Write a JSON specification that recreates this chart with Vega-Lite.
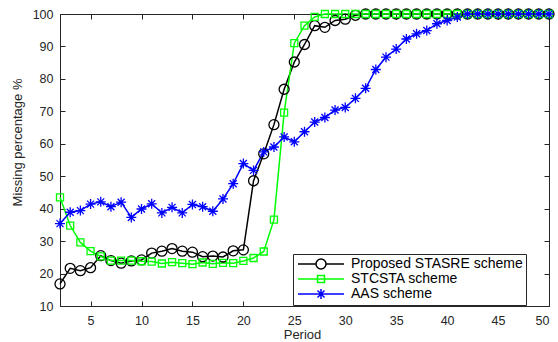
{
  "$schema": "https://vega.github.io/schema/vega-lite/v6.json",
  "width": 489,
  "height": 292,
  "autosize": {"type": "none"},
  "padding": {"left": 60, "top": 14, "right": 9, "bottom": 36},
  "background": "white",
  "config": {
    "view": {"stroke": "#262626", "strokeWidth": 1},
    "font": "Liberation Sans",
    "axis": {
      "grid": false,
      "domainColor": "#262626",
      "tickColor": "#262626",
      "labelColor": "#262626",
      "titleColor": "#262626",
      "labelFont": "Liberation Sans",
      "titleFont": "Liberation Sans",
      "labelFontSize": 12.5,
      "titleFontSize": 13,
      "titleFontWeight": "normal",
      "tickSize": -5,
      "domainWidth": 1,
      "tickWidth": 1
    }
  },
  "data": {
    "values": [
      {"period": 2, "Proposed STASRE scheme": 16.8, "STCSTA scheme": 43.5, "AAS scheme": 35.4},
      {"period": 3, "Proposed STASRE scheme": 21.6, "STCSTA scheme": 34.8, "AAS scheme": 38.9},
      {"period": 4, "Proposed STASRE scheme": 20.9, "STCSTA scheme": 29.6, "AAS scheme": 39.4},
      {"period": 5, "Proposed STASRE scheme": 21.8, "STCSTA scheme": 26.9, "AAS scheme": 41.4},
      {"period": 6, "Proposed STASRE scheme": 25.5, "STCSTA scheme": 25.3, "AAS scheme": 42.1},
      {"period": 7, "Proposed STASRE scheme": 24.0, "STCSTA scheme": 24.0, "AAS scheme": 40.6},
      {"period": 8, "Proposed STASRE scheme": 23.2, "STCSTA scheme": 24.0, "AAS scheme": 42.0},
      {"period": 9, "Proposed STASRE scheme": 23.9, "STCSTA scheme": 24.0, "AAS scheme": 37.3},
      {"period": 10, "Proposed STASRE scheme": 24.2, "STCSTA scheme": 23.8, "AAS scheme": 39.9},
      {"period": 11, "Proposed STASRE scheme": 26.3, "STCSTA scheme": 23.7, "AAS scheme": 41.5},
      {"period": 12, "Proposed STASRE scheme": 26.9, "STCSTA scheme": 23.1, "AAS scheme": 38.7},
      {"period": 13, "Proposed STASRE scheme": 27.7, "STCSTA scheme": 23.5, "AAS scheme": 40.4},
      {"period": 14, "Proposed STASRE scheme": 26.9, "STCSTA scheme": 23.2, "AAS scheme": 38.7},
      {"period": 15, "Proposed STASRE scheme": 26.6, "STCSTA scheme": 22.9, "AAS scheme": 41.3},
      {"period": 16, "Proposed STASRE scheme": 25.2, "STCSTA scheme": 23.4, "AAS scheme": 40.6},
      {"period": 17, "Proposed STASRE scheme": 25.4, "STCSTA scheme": 23.0, "AAS scheme": 39.2},
      {"period": 18, "Proposed STASRE scheme": 25.1, "STCSTA scheme": 23.3, "AAS scheme": 43.0},
      {"period": 19, "Proposed STASRE scheme": 27.0, "STCSTA scheme": 23.2, "AAS scheme": 47.7},
      {"period": 20, "Proposed STASRE scheme": 27.3, "STCSTA scheme": 23.9, "AAS scheme": 53.9},
      {"period": 21, "Proposed STASRE scheme": 48.6, "STCSTA scheme": 24.8, "AAS scheme": 51.8},
      {"period": 22, "Proposed STASRE scheme": 56.9, "STCSTA scheme": 26.8, "AAS scheme": 57.5},
      {"period": 23, "Proposed STASRE scheme": 65.9, "STCSTA scheme": 36.6, "AAS scheme": 59.0},
      {"period": 24, "Proposed STASRE scheme": 76.8, "STCSTA scheme": 69.6, "AAS scheme": 62.1},
      {"period": 25, "Proposed STASRE scheme": 85.2, "STCSTA scheme": 91.0, "AAS scheme": 60.6},
      {"period": 26, "Proposed STASRE scheme": 90.6, "STCSTA scheme": 96.4, "AAS scheme": 63.7},
      {"period": 27, "Proposed STASRE scheme": 96.4, "STCSTA scheme": 99.1, "AAS scheme": 66.7},
      {"period": 28, "Proposed STASRE scheme": 95.9, "STCSTA scheme": 100, "AAS scheme": 68.1},
      {"period": 29, "Proposed STASRE scheme": 98.0, "STCSTA scheme": 100, "AAS scheme": 70.4},
      {"period": 30, "Proposed STASRE scheme": 98.4, "STCSTA scheme": 100, "AAS scheme": 71.2},
      {"period": 31, "Proposed STASRE scheme": 99.6, "STCSTA scheme": 100, "AAS scheme": 74.0},
      {"period": 32, "Proposed STASRE scheme": 100, "STCSTA scheme": 100, "AAS scheme": 77.1},
      {"period": 33, "Proposed STASRE scheme": 100, "STCSTA scheme": 100, "AAS scheme": 82.9},
      {"period": 34, "Proposed STASRE scheme": 100, "STCSTA scheme": 100, "AAS scheme": 86.7},
      {"period": 35, "Proposed STASRE scheme": 100, "STCSTA scheme": 100, "AAS scheme": 89.2},
      {"period": 36, "Proposed STASRE scheme": 100, "STCSTA scheme": 100, "AAS scheme": 92.3},
      {"period": 37, "Proposed STASRE scheme": 100, "STCSTA scheme": 100, "AAS scheme": 93.9},
      {"period": 38, "Proposed STASRE scheme": 100, "STCSTA scheme": 100, "AAS scheme": 94.9},
      {"period": 39, "Proposed STASRE scheme": 100, "STCSTA scheme": 100, "AAS scheme": 97.0},
      {"period": 40, "Proposed STASRE scheme": 100, "STCSTA scheme": 100, "AAS scheme": 98.0},
      {"period": 41, "Proposed STASRE scheme": 100, "STCSTA scheme": 100, "AAS scheme": 99.1},
      {"period": 42, "Proposed STASRE scheme": 100, "STCSTA scheme": 100, "AAS scheme": 100},
      {"period": 43, "Proposed STASRE scheme": 100, "STCSTA scheme": 100, "AAS scheme": 100},
      {"period": 44, "Proposed STASRE scheme": 100, "STCSTA scheme": 100, "AAS scheme": 100},
      {"period": 45, "Proposed STASRE scheme": 100, "STCSTA scheme": 100, "AAS scheme": 100},
      {"period": 46, "Proposed STASRE scheme": 100, "STCSTA scheme": 100, "AAS scheme": 100},
      {"period": 47, "Proposed STASRE scheme": 100, "STCSTA scheme": 100, "AAS scheme": 100},
      {"period": 48, "Proposed STASRE scheme": 100, "STCSTA scheme": 100, "AAS scheme": 100},
      {"period": 49, "Proposed STASRE scheme": 100, "STCSTA scheme": 100, "AAS scheme": 100},
      {"period": 50, "Proposed STASRE scheme": 100, "STCSTA scheme": 100, "AAS scheme": 100}
    ]
  },
  "transform": [
    {"fold": ["Proposed STASRE scheme", "STCSTA scheme", "AAS scheme"], "as": ["scheme", "value"]}
  ],
  "layer": [
    {
      "mark": {"type": "line", "strokeWidth": 1.5},
      "encoding": {
        "x": {
          "field": "period", "type": "quantitative",
          "scale": {"domain": [2, 50], "nice": false, "zero": false},
          "axis": {"values": [5, 10, 15, 20, 25, 30, 35, 40, 45, 50], "title": "Period", "labelPadding": 13, "titleX": 242, "titleY": 32.5, "titleAlign": "center", "titleBaseline": "alphabetic"}
        },
        "y": {
          "field": "value", "type": "quantitative",
          "scale": {"domain": [10, 100], "nice": false, "zero": false},
          "axis": {"values": [10, 20, 30, 40, 50, 60, 70, 80, 90, 100], "title": "Missing percentage %", "labelPadding": 12, "titleX": -43, "titleY": 128, "titleAngle": 270, "titleAlign": "center", "titleBaseline": "middle"}
        },
        "color": {
          "field": "scheme", "type": "nominal",
          "scale": {"domain": ["Proposed STASRE scheme", "STCSTA scheme", "AAS scheme"], "range": ["#000000", "#00ff00", "#0000ff"]},
          "legend": {
            "orient": "none", "legendX": 233, "legendY": 240, "title": null,
            "strokeColor": "#262626", "fillColor": "white", "padding": 3, "rowPadding": 0,
            "labelFont": "Liberation Sans", "labelFontSize": 14, "labelColor": "#000000", "labelLimit": 0,
            "symbolSize": 100, "symbolStrokeWidth": 1.5, "symbolOffset": 18, "labelOffset": 23,
            "encode": {
              "symbols": {
                "update": {
                  "shape": {"signal": "datum.value == 'AAS scheme' ? 'M-4.6,0L4.6,0M0,-1L0,1M-0.7,-0.7L0.7,0.7M-0.7,0.7L0.7,-0.7' : datum.value == 'STCSTA scheme' ? 'M-4.6,0L4.6,0M-0.7,-0.7L0.7,-0.7L0.7,0.7L-0.7,0.7Z' : 'M-4.6,0L-1,0M1,0L4.6,0M-1,0A1,1,0,1,0,1,0A1,1,0,1,0,-1,0'"},
                  "fill": {"value": "transparent"}
                }
              }
            }
          }
        }
      }
    },
    {
      "transform": [{"filter": "datum.scheme == 'Proposed STASRE scheme'"}],
      "mark": {"type": "point", "filled": false, "size": 100, "strokeWidth": 1.3, "opacity": 1, "color": "#000000", "shape": "M-1,0A1,1,0,1,0,1,0A1,1,0,1,0,-1,0"},
      "encoding": {
        "x": {
          "field": "period", "type": "quantitative",
          "axis": {"orient": "top", "values": [5, 10, 15, 20, 25, 30, 35, 40, 45, 50], "labels": false, "title": null, "domain": false}
        },
        "y": {
          "field": "value", "type": "quantitative",
          "axis": {"orient": "right", "values": [10, 20, 30, 40, 50, 60, 70, 80, 90, 100], "labels": false, "title": null, "domain": false}
        }
      }
    },
    {
      "transform": [{"filter": "datum.scheme == 'STCSTA scheme'"}],
      "mark": {"type": "point", "filled": false, "size": 100, "strokeWidth": 1.3, "opacity": 1, "color": "#00ff00", "shape": "M-0.7,-0.7L0.7,-0.7L0.7,0.7L-0.7,0.7Z"},
      "encoding": {
        "x": {"field": "period", "type": "quantitative", "axis": null},
        "y": {"field": "value", "type": "quantitative", "axis": null}
      }
    },
    {
      "transform": [{"filter": "datum.scheme == 'AAS scheme'"}],
      "mark": {"type": "point", "filled": false, "size": 100, "strokeWidth": 1.3, "opacity": 1, "color": "#0000ff", "shape": "M-1,0L1,0M0,-1L0,1M-0.7,-0.7L0.7,0.7M-0.7,0.7L0.7,-0.7"},
      "encoding": {
        "x": {"field": "period", "type": "quantitative", "axis": null},
        "y": {"field": "value", "type": "quantitative", "axis": null}
      }
    }
  ],
  "resolve": {"axis": {"x": "independent", "y": "independent"}}
}
